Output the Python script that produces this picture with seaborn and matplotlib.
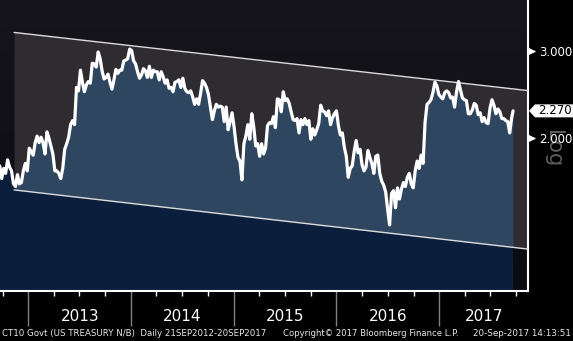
import numpy as np
import pandas as pd
import matplotlib
matplotlib.use("Agg")
import matplotlib.pyplot as plt
import matplotlib.dates as mdates
import matplotlib.ticker as mticker
import matplotlib.transforms as mtransforms
from matplotlib.patches import Polygon
from matplotlib.colors import LinearSegmentedColormap
import seaborn as sns

# ---------------- data (weekly closes, US 10Y yield, %) ----------------
y2012 = [1.76, 1.66, 1.74, 1.70, 1.81, 1.75, 1.72, 1.62, 1.60, 1.69, 1.62, 1.63, 1.72, 1.78, 1.72]
y2013 = [1.91, 1.88, 1.85, 1.96, 2.02, 1.96, 2.01, 1.96, 1.86, 2.06, 2.00, 1.93, 1.86,
         1.72, 1.72, 1.70, 1.66, 1.74, 1.90, 1.95, 2.01, 2.13, 2.17, 2.13, 2.53, 2.49,
         2.74, 2.59, 2.48, 2.56, 2.60, 2.58, 2.83, 2.82, 2.78, 2.98, 2.89, 2.73, 2.63,
         2.65, 2.69, 2.59, 2.51, 2.62, 2.75, 2.70, 2.74, 2.74, 2.86, 2.87, 2.89, 3.02]
y2014 = [3.00, 2.86, 2.82, 2.72, 2.64, 2.68, 2.76, 2.73, 2.65, 2.79, 2.65, 2.74, 2.72,
         2.72, 2.62, 2.72, 2.66, 2.58, 2.62, 2.52, 2.53, 2.48, 2.59, 2.60, 2.62, 2.53,
         2.64, 2.52, 2.48, 2.47, 2.49, 2.42, 2.34, 2.40, 2.34, 2.46, 2.61, 2.58, 2.53,
         2.45, 2.31, 2.18, 2.27, 2.34, 2.31, 2.32, 2.31, 2.16, 2.31, 2.08, 2.16, 2.25]
y2015 = [2.11, 1.95, 1.83, 1.80, 1.65, 1.95, 2.02, 2.13, 1.99, 2.24, 2.11, 1.93, 1.95,
         1.84, 1.95, 1.86, 1.91, 2.12, 2.15, 2.14, 2.21, 2.10, 2.40, 2.39, 2.26, 2.48,
         2.38, 2.40, 2.35, 2.26, 2.18, 2.17, 2.19, 2.05, 2.18, 2.13, 2.19, 2.13, 2.17,
         1.99, 2.09, 2.03, 2.08, 2.14, 2.33, 2.27, 2.26, 2.22, 2.27, 2.13, 2.20, 2.24]
y2016 = [2.27, 2.12, 2.03, 2.05, 1.92, 1.84, 1.67, 1.74, 1.76, 1.88, 1.98, 1.87, 1.90,
         1.77, 1.72, 1.75, 1.89, 1.83, 1.78, 1.70, 1.84, 1.85, 1.70, 1.64, 1.61, 1.56,
         1.44, 1.34, 1.55, 1.57, 1.45, 1.59, 1.51, 1.58, 1.63, 1.60, 1.67, 1.70, 1.62,
         1.59, 1.72, 1.80, 1.74, 1.85, 1.78, 2.15, 2.34, 2.36, 2.39, 2.47, 2.59, 2.55, 2.45]
y2017 = [2.42, 2.40, 2.47, 2.49, 2.47, 2.41, 2.42, 2.31, 2.48, 2.60, 2.50, 2.41, 2.39,
         2.38, 2.24, 2.24, 2.28, 2.35, 2.33, 2.23, 2.25, 2.16, 2.20, 2.15, 2.14, 2.30,
         2.39, 2.33, 2.24, 2.29, 2.26, 2.19, 2.19, 2.17, 2.16, 2.05, 2.20, 2.27]

first_friday = "2012-09-21"
last_friday = "2017-09-15"
last_date = "2017-09-20"

x_start = "2012-09-22"
x_end = "2017-11-12"
y_limits = [0.987, 3.79]

channel_dates = ["2012-11-11", "2017-11-12"]
upper_channel = [3.262, 2.493]
lower_channel = [1.575, 1.198]

y_ticks = [2.0, 3.0]
y_tick_labels = ["2.000", "3.000"]
year_labels = [2013, 2014, 2015, 2016, 2017]

left_footer = "CT10 Govt (US TREASURY N/B)  Daily 21SEP2012-20SEP2017"
mid_footer = "Copyright\u00a9 2017 Bloomberg Finance L.P."
right_footer = "20-Sep-2017 14:13:51"

# ---------------- build table ----------------
values = np.array(y2012 + y2013 + y2014 + y2015 + y2016 + y2017, dtype=float)
dates = list(pd.date_range(first_friday, last_friday, freq="W-FRI")) + [pd.Timestamp(last_date)]
dates = pd.DatetimeIndex(dates)
n = min(len(dates), len(values))
df = pd.DataFrame({"date": dates[:n], "yield": values[:n]})

# ---------------- style ----------------
sns.set_theme(style="dark")
plt.rcParams["font.family"] = ["DejaVu Sans"]

NAVY = "#0b1f3d"
BLUE = "#2f4661"
GRAY = "#2e2c31"
BLACK = "#000000"

fig = plt.figure(figsize=(5.73, 3.41), dpi=100, facecolor=BLACK)
pos = [0.0, 1 - 291 / 341, 528 / 573, 291 / 341]

# gradient background axes
bg = fig.add_axes(pos, zorder=-2)
bg.imshow(np.linspace(0, 1, 256).reshape(-1, 1),
          cmap=LinearSegmentedColormap.from_list("bgc", ["#16151b", "#0a0a10"]),
          aspect="auto", extent=[0, 1, 0, 1])
bg.set_axis_off()

ax = fig.add_axes(pos, zorder=0)
ax.set_facecolor("none")
ax.set_yscale("log")

dn = mdates.date2num(df["date"])
c_d = pd.to_datetime(channel_dates)
c_n = mdates.date2num(c_d)


def channel_at(endpoints, d):
    l0, l1 = np.log10(endpoints[0]), np.log10(endpoints[1])
    return 10 ** (l0 + (l1 - l0) * (np.asarray(d) - c_n[0]) / (c_n[1] - c_n[0]))


# channel band (gray)
ax.fill_between(c_d, lower_channel, upper_channel, color=GRAY, lw=0, zorder=1)
# area under curve (navy)
ax.fill_between(df["date"], y_limits[0] * 0.5, df["yield"], color=NAVY, lw=0, zorder=2)
# area under curve inside channel (blue)
mask = dn >= c_n[0]
low_vals = channel_at(lower_channel, dn[mask])
ax.fill_between(df["date"][mask], low_vals, df["yield"][mask],
                where=df["yield"][mask].values > low_vals, interpolate=True,
                color=BLUE, lw=0, zorder=3)
# channel lines
ax.plot(c_d, upper_channel, color="#dcdcdc", lw=1.0, zorder=4)
ax.plot(c_d, lower_channel, color="#dcdcdc", lw=1.0, zorder=4)
# price line
sns.lineplot(data=df, x="date", y="yield", ax=ax, color="white", lw=2.3, zorder=5)

ax.set_xlim(pd.Timestamp(x_start), pd.Timestamp(x_end))
ax.set_ylim(*y_limits)
ax.set_xlabel("")
ax.set_ylabel("")

# spines
for s in ["left", "top"]:
    ax.spines[s].set_visible(False)
for s in ["right", "bottom"]:
    ax.spines[s].set_visible(True)
    ax.spines[s].set_color("white")
    ax.spines[s].set_linewidth(1.5)

# x axis ticks
ax.xaxis.set_major_locator(mdates.YearLocator())
ax.xaxis.set_minor_locator(mdates.MonthLocator(bymonth=[4, 7, 10]))
ax.xaxis.set_major_formatter(mticker.NullFormatter())
ax.tick_params(axis="x", which="major", direction="out", length=25, width=1.0, color="#808080", bottom=True)
ax.tick_params(axis="x", which="minor", direction="out", length=3.5, width=1.0, color="white", bottom=True)

# year labels, centered in the visible part of each year
xl0, xl1 = ax.get_xlim()
tr = mtransforms.blended_transform_factory(ax.transData, ax.transAxes)
for yr in year_labels:
    a = max(mdates.date2num(pd.Timestamp(f"{yr}-01-01")), xl0)
    b = min(mdates.date2num(pd.Timestamp(f"{yr + 1}-01-01")), xl1)
    ax.text((a + b) / 2, -0.088, str(yr), transform=tr, ha="center", va="center",
            color="white", fontsize=11, family=["Liberation Sans Narrow", "DejaVu Sans"])

# y axis on right
ax.yaxis.tick_right()
ax.yaxis.set_major_locator(mticker.FixedLocator(y_ticks))
ax.yaxis.set_major_formatter(mticker.FixedFormatter(y_tick_labels))
ax.yaxis.set_minor_locator(mticker.NullLocator())
ax.tick_params(axis="y", which="major", direction="out", length=5, width=1.0,
               colors="white", labelsize=8.5, pad=3, right=True, left=False)

ty = mtransforms.blended_transform_factory(ax.transAxes, ax.transData)
tri = mtransforms.offset_copy(ty, fig=fig, x=2.5, y=0, units="dots")
for v in y_ticks:
    ax.plot([1.0], [v], marker=">", ms=4.5, color="white", transform=tri, clip_on=False, zorder=6)

# last value tag
last_val = df["yield"].iloc[-1]
fig.canvas.draw()
yc = ax.transData.transform((dn[-1], last_val))[1]
W, H = fig.bbox.width, fig.bbox.height
x_tip, x_box, x_right, half = 529, 535, 573, 6.5
tag = Polygon([(x_tip / W, yc / H), (x_box / W, (yc + half) / H), (x_right / W, (yc + half) / H),
               (x_right / W, (yc - half) / H), (x_box / W, (yc - half) / H)],
              closed=True, transform=fig.transFigure, facecolor="white", edgecolor="none", zorder=5)
fig.patches.append(tag)
fig.text((x_box + x_right) / 2 / W + 0.002, yc / H, f"{last_val:.3f}", ha="center", va="center",
         color="black", fontsize=8.5, zorder=6)

# "Log" indicator (sits behind the 2.000 label, as in the original)
fig.text(553 / W, 1 - 149 / H, "Log", rotation=270, ha="center", va="center",
         color="#5e5e5e", fontsize=15, zorder=-1)

# footer
fig.text(2 / W, 1 - 333 / H, left_footer, ha="left", va="center", color="#e8e8e8", fontsize=6.2)
fig.text(283 / W, 1 - 333 / H, mid_footer, ha="left", va="center", color="#e8e8e8", fontsize=6.1)
fig.text(571 / W, 1 - 333 / H, right_footer, ha="right", va="center", color="#e8e8e8", fontsize=6.3)

fig.savefig("out.png", dpi=100, facecolor=BLACK)
